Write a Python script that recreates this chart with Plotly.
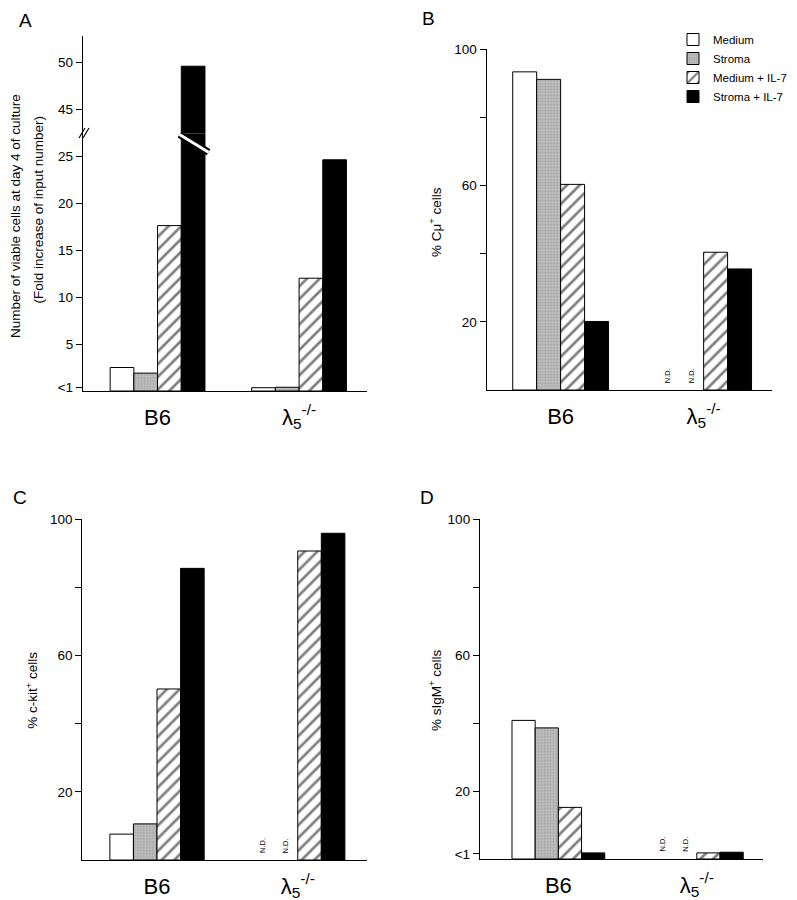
import plotly.graph_objects as go

W, H = 797, 900
OFF = 8  # the page body margin shifts the figure by this many pixels
FONT = "Liberation Sans, Arial, sans-serif"

groups = ["B6", "lambda5"]
group_labels = ["B6", "λ<sub>5</sub><sup>-/-</sup>"]
conditions = ["Medium", "Stroma", "Medium + IL-7", "Stroma + IL-7"]

# values per condition: [B6, lambda5]   (None = N.D.)
a_medium = [2.5, 0.35]
a_stroma = [1.9, 0.4]
a_medium_il7 = [17.6, 12.0]
a_stroma_il7 = [49.6, 24.6]

b_medium = [93.3, None]
b_stroma = [91.1, None]
b_medium_il7 = [60.3, 40.4]
b_stroma_il7 = [20.1, 35.5]

c_medium = [7.6, None]
c_stroma = [10.6, None]
c_medium_il7 = [50.2, 90.7]
c_stroma_il7 = [85.6, 95.9]

d_medium = [40.8, None]
d_stroma = [38.6, None]
d_medium_il7 = [15.2, 1.8]
d_stroma_il7 = [1.8, 2.0]

panels = {
    "A": [a_medium, a_stroma, a_medium_il7, a_stroma_il7],
    "B": [b_medium, b_stroma, b_medium_il7, b_stroma_il7],
    "C": [c_medium, c_stroma, c_medium_il7, c_stroma_il7],
    "D": [d_medium, d_stroma, d_medium_il7, d_stroma_il7],
}


def px(x):
    return (x - OFF) / (W - OFF)


def py(y):
    return 1 - (y - OFF) / (H - OFF)


def marker_for(i):
    line = dict(color="black", width=1)
    if i == 0:
        return dict(color="white", line=line)
    if i == 1:
        return dict(color="#b2b2b2", line=line,
                    pattern=dict(shape=".", fgcolor="#8a8a8a", bgcolor="#bdbdbd",
                                 size=3, solidity=0.3))
    if i == 2:
        return dict(color="white", line=line,
                    pattern=dict(shape="/", fgcolor="black", bgcolor="white",
                                 size=9, solidity=0.3))
    return dict(color="black", line=line)


fig = go.Figure()

# (panel, xaxis, yaxis, show legend)
trace_axes = [("A", "x", "y", True), ("A", "x2", "y2", False),
              ("B", "x3", "y3", False), ("C", "x4", "y4", False),
              ("D", "x5", "y5", False)]
for panel, xa, ya, leg in trace_axes:
    for i, cond in enumerate(conditions):
        fig.add_trace(go.Bar(x=groups, y=panels[panel][i], name=cond,
                             marker=marker_for(i), xaxis=xa, yaxis=ya,
                             offsetgroup=str(i), showlegend=leg,
                             legendgroup=cond))

xbase = dict(type="category", categoryorder="array", categoryarray=groups,
             showline=True, linecolor="black", linewidth=1.3, ticks="",
             tickvals=groups, ticktext=group_labels, showgrid=False,
             zeroline=False, tickfont=dict(size=22, color="black"),
             ticklabelstandoff=6, fixedrange=True, automargin=False)
ybase = dict(showline=True, linecolor="black", linewidth=1.3, ticks="outside",
             ticklen=6, tickwidth=1.2, tickcolor="black", showgrid=False,
             zeroline=False, tickfont=dict(size=13.5, color="black"),
             fixedrange=True, automargin=False)

brk = 133.5  # pixel row of the axis break in panel A
fig.update_layout(
    xaxis=dict(xbase, domain=[px(83), px(367)], range=[-0.527, 1.48], anchor="y"),
    yaxis=dict(ybase, domain=[py(391), py(brk)], range=[0, 27.4], anchor="x",
               tickvals=[0.4, 5, 10, 15, 20, 25],
               ticktext=["<1", "5", "10", "15", "20", "25"]),
    xaxis2=dict(xbase, domain=[px(83), px(367)], range=[-0.527, 1.48],
                anchor="y2", visible=False, matches="x"),
    yaxis2=dict(ybase, domain=[py(brk), py(36)], range=[42.47, 52.8], anchor="x2",
                tickvals=[45, 50]),
    xaxis3=dict(xbase, domain=[px(486.7), px(771.7)], range=[-0.517, 1.476], anchor="y3"),
    yaxis3=dict(ybase, domain=[py(390), py(49)], range=[0, 100], anchor="x3",
                tickvals=[20, 40, 60, 80, 100], ticktext=["20", " ", "60", " ", "100"]),
    xaxis4=dict(xbase, domain=[px(82.3), px(366.7)], range=[-0.531, 1.49], anchor="y4"),
    yaxis4=dict(ybase, domain=[py(860), py(519.3)], range=[0, 100], anchor="x4",
                tickvals=[20, 40, 60, 80, 100], ticktext=["20", " ", "60", " ", "100"]),
    xaxis5=dict(xbase, domain=[px(480), px(763.3)], range=[-0.566, 1.48], anchor="y5"),
    yaxis5=dict(ybase, domain=[py(859), py(519.3)], range=[0, 100], anchor="x5",
                tickvals=[1.5, 20, 40, 60, 80, 100],
                ticktext=["<1", "20", " ", "60", " ", "100"]),
    barmode="group", bargap=0.33, bargroupgap=0,
    width=W - OFF, height=H - OFF, margin=dict(l=0, r=0, t=0, b=0),
    plot_bgcolor="white", paper_bgcolor="white",
    font=dict(family=FONT, color="black"),
    legend=dict(x=px(673), y=py(25), xanchor="left", yanchor="top",
                font=dict(size=11.5), tracegroupgap=0, bgcolor="rgba(0,0,0,0)"),
)

# N.D. labels for missing lambda5 bars
w = (1 - 0.33) / 4
for xa, ya, vals in [("x3", "y3", panels["B"]), ("x4", "y4", panels["C"]),
                     ("x5", "y5", panels["D"])]:
    for i in range(4):
        if vals[i][1] is None:
            fig.add_annotation(x=1 + (i - 1.5) * w, y=0, xref=xa, yref=ya,
                               text="N.D.", textangle=-90, showarrow=False,
                               xanchor="center", yanchor="bottom", yshift=5,
                               font=dict(size=7.5, color="black"))

# y titles
titles = [
    (15, 216, "Number of viable cells at day 4 of culture"),
    (37.5, 210, "(Fold increase of input number)"),
    (435, 222, "% Cμ<sup>+</sup> cells"),
    (31.7, 690, "% c-kit<sup>+</sup> cells"),
    (435, 690, "% sIgM<sup>+</sup> cells"),
]
for x, y, t in titles:
    fig.add_annotation(x=px(x), y=py(y), xref="paper", yref="paper", text=t,
                       textangle=-90, showarrow=False, xanchor="center",
                       yanchor="middle", font=dict(size=13.5))

# panel letters
for x, y, t in [(25, 20, "A"), (428, 19, "B"), (20, 497, "C"), (427, 497, "D")]:
    fig.add_annotation(x=px(x), y=py(y), xref="paper", yref="paper", text=t,
                       showarrow=False, xanchor="center", yanchor="middle",
                       font=dict(size=19))

# break on the black B6 bar of panel A
for col, wd in [("black", 7), ("white", 3)]:
    fig.add_shape(type="line", xref="x", yref="y", x0=0.155, x1=0.36,
                  y0=27.3, y1=25.4, line=dict(color=col, width=wd))
# break mark on the y axis of panel A
for dx in (0, 4):
    fig.add_shape(type="line", xref="paper", yref="paper",
                  x0=px(79 + dx), x1=px(85 + dx), y0=py(138), y1=py(128),
                  line=dict(color="black", width=1.2))

fig.write_html("out.html")
